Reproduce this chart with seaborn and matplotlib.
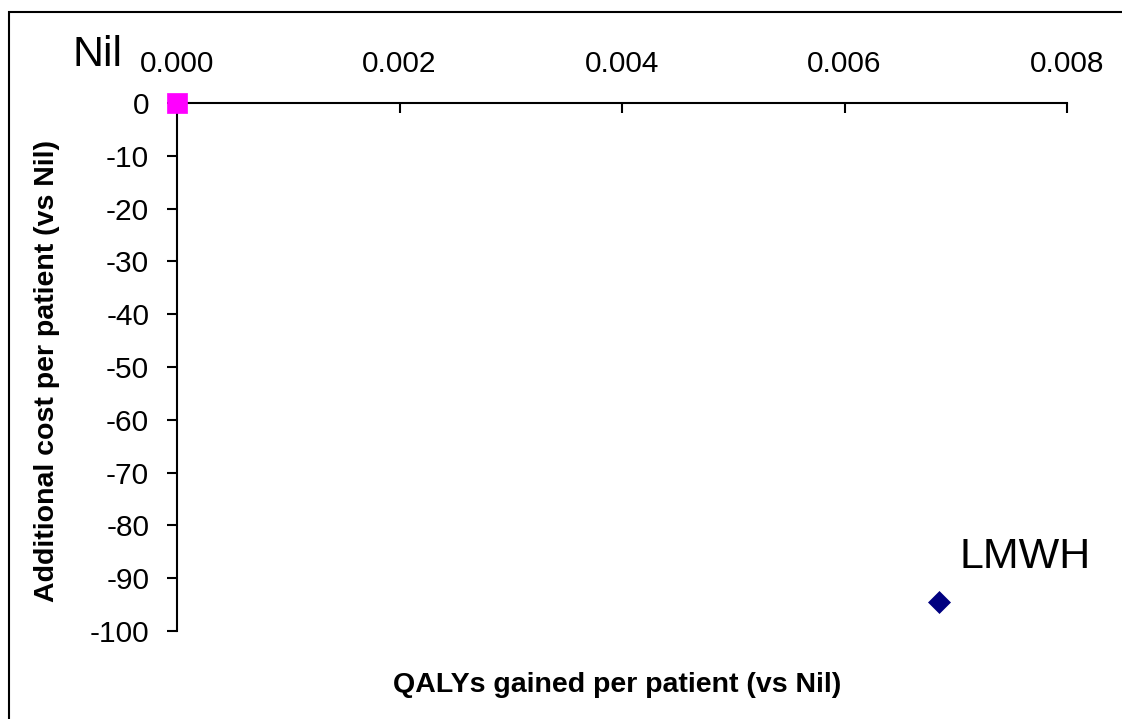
import matplotlib
matplotlib.use("Agg")
import matplotlib.pyplot as plt
import seaborn as sns
import pandas as pd
from matplotlib.patches import Rectangle

# Strategies and their incremental results versus no prophylaxis
strategies = ["Nil", "LMWH"]
qalys_gained = [0.0, 0.00685]
additional_cost = [0.0, -94.6]
markers = {"Nil": "s", "LMWH": "D"}
colors = {"Nil": "#FF00FF", "LMWH": "#000080"}
sizes = {"Nil": 200, "LMWH": 125}

x_ticks = [0.000, 0.002, 0.004, 0.006, 0.008]
y_ticks = [0, -10, -20, -30, -40, -50, -60, -70, -80, -90, -100]

df = pd.DataFrame({"strategy": strategies, "qalys": qalys_gained, "cost": additional_cost})

sns.set_style("white")
plt.rcParams["font.family"] = ["Liberation Sans", "DejaVu Sans"]
plt.rcParams["text.color"] = "black"
plt.rcParams["axes.labelcolor"] = "black"
plt.rcParams["axes.unicode_minus"] = False

W, H = 1122, 719
fig = plt.figure(figsize=(W / 100, H / 100), dpi=100)
ax = fig.add_axes([177 / W, 1 - 631 / H, (1067 - 177) / W, (631 - 103) / H])

for s in strategies:
    sub = df[df["strategy"] == s]
    sns.scatterplot(data=sub, x="qalys", y="cost", marker=markers[s], color=colors[s],
                    s=sizes[s], edgecolor=colors[s], linewidth=0.5, ax=ax,
                    clip_on=False, zorder=5, legend=False)

ax.set_xlim(0, 0.008)
ax.set_ylim(-100, 0)
ax.set_xticks(x_ticks)
ax.set_xticklabels([f"{v:.3f}" for v in x_ticks])
ax.set_yticks(y_ticks)
ax.set_yticklabels([str(v) for v in y_ticks])

# x axis runs along the top (cost = 0), ticks pointing down into the plot
ax.xaxis.tick_top()
ax.tick_params(axis="x", which="both", direction="in", length=7, width=1.5,
               pad=18, labelsize=21.5, colors="black", top=True, bottom=False)
ax.tick_params(axis="y", which="both", direction="out", length=7, width=1.5,
               pad=13, labelsize=21.5, colors="black", left=True)

for side in ["right", "bottom"]:
    ax.spines[side].set_visible(False)
for side in ["top", "left"]:
    ax.spines[side].set_linewidth(1.5)
    ax.spines[side].set_color("black")

ax.set_xlabel("")
ax.set_ylabel("")

# Point labels
for s, x, y in zip(strategies, qalys_gained, additional_cost):
    if s == "Nil":
        ax.annotate(s, (x, y), xytext=(-39, 27), textcoords="offset points",
                    ha="right", va="baseline", fontsize=31, color="black")
    else:
        ax.annotate(s, (x, y), xytext=(15, 25), textcoords="offset points",
                    ha="left", va="baseline", fontsize=31, color="black")

fig.text(617 / W, 1 - 692 / H, "QALYs gained per patient (vs Nil)", ha="center",
         va="baseline", fontsize=20.5, fontweight="bold", color="black")
fig.text(47 / W, 1 - 371 / H, "Additional cost per patient (vs Nil)", ha="center",
         va="center", rotation=90, fontsize=20.5, fontweight="bold", color="black")

# Chart-area frame
fig.patches.append(Rectangle((9 / W, -0.1), 1.2, 1.1 - 12 / H, transform=fig.transFigure,
                             fill=False, edgecolor="black", linewidth=1.5))

fig.savefig("out.png", dpi=100)
